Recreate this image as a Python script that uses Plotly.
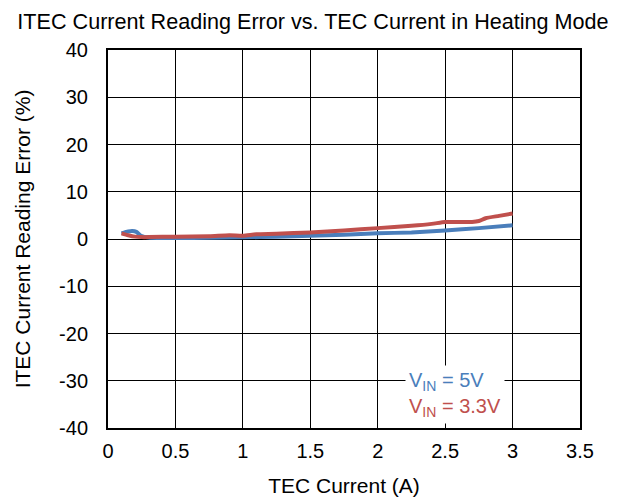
import plotly.graph_objects as go

x_5v = [0.1, 0.15, 0.18, 0.21, 0.25, 0.3, 0.4, 0.5, 0.75, 1.0, 1.25, 1.5, 1.75, 2.0, 2.25, 2.5, 2.75, 3.0]
err_5v = [1.2, 1.6, 1.7, 1.5, 0.6, 0.3, 0.2, 0.2, 0.25, 0.35, 0.5, 0.7, 0.9, 1.2, 1.4, 1.8, 2.3, 2.9]

x_33v = [0.1, 0.15, 0.2, 0.25, 0.3, 0.5, 0.75, 0.9, 1.0, 1.1, 1.25, 1.5, 1.75, 2.0, 2.25, 2.4, 2.5, 2.6, 2.7, 2.75, 2.8, 2.9, 3.0]
err_33v = [1.2, 0.8, 0.5, 0.4, 0.4, 0.5, 0.6, 0.8, 0.7, 1.0, 1.1, 1.4, 1.8, 2.3, 2.8, 3.2, 3.6, 3.6, 3.6, 3.8, 4.4, 4.9, 5.4]

x_ticks = [0, 0.5, 1, 1.5, 2, 2.5, 3, 3.5]
y_ticks = [-40, -30, -20, -10, 0, 10, 20, 30, 40]
y_ticklabels = ["-40", "-30", "-20", "-10", "0", "10", "20", "30", "40"]

blue = "#4A7EBB"
red = "#C0504D"
font = "Liberation Sans, Arial, sans-serif"

# plot area in figure pixels (page adds an 8px body margin)
L, R, T, B = 100, 572, 42, 420

fig = go.Figure()
fig.add_trace(go.Scatter(x=x_5v, y=err_5v, mode="lines", line=dict(color=blue, width=4, shape="spline", smoothing=0.6), showlegend=False))
fig.add_trace(go.Scatter(x=x_33v, y=err_33v, mode="lines", line=dict(color=red, width=4, shape="spline", smoothing=0.6), showlegend=False))

fig.add_annotation(
    x=(397 - L) / (R - L), y=(B - 357) / (B - T), xref="paper", yref="paper",
    text=f"<span style='color:{blue}'>V<sub>IN</sub> = 5V</span><br><span style='color:{red}'>V<sub>IN</sub> = 3.3V</span>",
    showarrow=False, align="left", xanchor="left", yanchor="top",
    bgcolor="white", borderpad=3, font=dict(family=font, size=20),
)

fig.update_layout(
    width=630, height=500,
    margin=dict(l=L, r=630 - R, t=T, b=500 - B, autoexpand=False),
    paper_bgcolor="white", plot_bgcolor="white",
    title=dict(text="ITEC Current Reading Error vs. TEC Current in Heating Mode", x=305 / 630, xref="container", xanchor="center",
               y=1 - 13 / 500, yref="container", yanchor="middle",
               font=dict(family=font, size=21.6, color="black")),
    font=dict(family=font, size=20, color="black"),
)
fig.update_xaxes(range=[0, 3.5], tickvals=x_ticks, ticktext=[str(v) for v in x_ticks], showgrid=True, gridcolor="black", gridwidth=1,
                 showline=True, linecolor="black", linewidth=2, mirror=True, zeroline=False, ticks="", automargin=False,
                 ticklabelstandoff=4,
                 title=dict(text="TEC Current (A)", font=dict(family=font, size=21), standoff=17), tickfont=dict(size=20))
fig.update_yaxes(range=[-40, 40], tickvals=y_ticks, ticktext=y_ticklabels, showgrid=True, gridcolor="black", gridwidth=1,
                 showline=True, linecolor="black", linewidth=2, mirror=True, zeroline=False, ticks="", automargin=False,
                 ticklabelstandoff=14,
                 title=dict(text="ITEC Current Reading Error (%)", font=dict(family=font, size=21), standoff=23), tickfont=dict(size=20))

fig.write_html("out.html")
